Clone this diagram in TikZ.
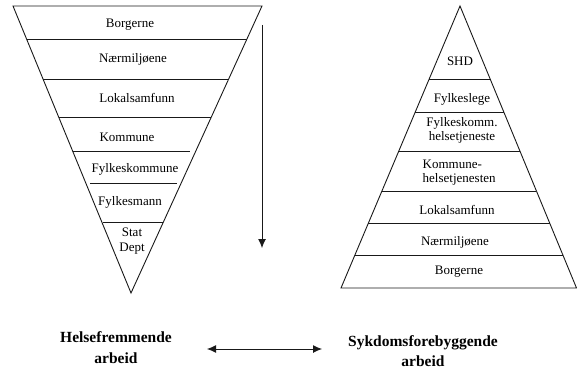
\documentclass[tikz,border=0pt]{standalone}
\usepackage{fontspec}
\setmainfont{Liberation Serif}
\usetikzlibrary{arrows.meta}
\tikzset{
  shape line/.style={line width=0.9pt, draw=black!90, line join=miter},
  lvl/.style={inner sep=0pt, font=\fontsize{13}{14.5}\selectfont, align=center},
  lvlleft/.style={inner sep=0pt, font=\fontsize{13}{14.5}\selectfont, align=left, anchor=west},
  caption/.style={inner sep=0pt, font=\fontsize{15.5}{20.5}\selectfont\bfseries, align=center},
  arrowline/.style={line width=0.9pt, draw=black!90},
  tip/.tip={Latex[length=9pt,width=8pt]}
}
\begin{document}
\begin{tikzpicture}[x=1pt,y=-1pt]
\useasboundingbox (0,0) rectangle (577,371);
% left inverted triangle
\coordinate (LTL) at (13,6);
\coordinate (LTR) at (262,6);
\coordinate (LA) at (131,293);
\draw[shape line] (LTL) -- (LTR) -- (LA) -- cycle;
\draw[shape line] (26.6,39) -- (247,39);
\draw[shape line] (43,79) -- (228.7,79);
\draw[shape line] (58.6,117) -- (211,117);
\draw[shape line] (72.6,151) -- (190,151);
\draw[shape line] (90,183) -- (177,183);
\draw[shape line] (103,222) -- (163,222);
\node[lvl] (l1) at (130,25) {Borgerne};
\node[lvl] (l2) at (133,59) {Nærmiljøene};
\node[lvl] (l3) at (137,98) {Lokalsamfunn};
\node[lvl] (l4) at (127,137) {Kommune};
\node[lvl] (l5) at (135,169) {Fylkeskommune};
\node[lvl] (l6) at (130,202) {Fylkesmann};
\node[lvl] (l7) at (132,241) {Stat\\Dept};
% vertical arrow
\coordinate (vA) at (262,25);
\coordinate (vB) at (262,248);
\draw[arrowline,-tip] (vA) -- (vB);
% right triangle
\coordinate (RA) at (460,6);
\coordinate (RBL) at (341,288);
\coordinate (RBR) at (576.5,288);
\draw[shape line] (RA) -- (RBR) -- (RBL) -- cycle;
\draw[shape line] (429.2,79) -- (490.2,79);
\draw[shape line] (415.3,112) -- (503.8,112);
\draw[shape line] (398.8,151) -- (520,151);
\draw[shape line] (381.9,191) -- (536.4,191);
\draw[shape line] (368.4,223) -- (549.6,223);
\draw[shape line] (354.9,255) -- (563,255);
\node[lvl] (r1) at (460,61) {SHD};
\node[lvl] (r2) at (462,99) {Fylkeslege};
\node[lvl] (r3) at (462,130.5) {Fylkeskomm.\\helsetjeneste};
\node[lvlleft] (r4) at (422.5,172.5) {Kommune-\\helsetjenesten};
\node[lvl] (r5) at (457,210) {Lokalsamfunn};
\node[lvl] (r6) at (455,242) {Nærmiljøene};
\node[lvl] (r7) at (459,272) {Borgerne};
% captions
\node[caption] (c1) at (116,347.5) {Helsefremmende\\arbeid};
\node[caption] (c2) at (423,351) {Sykdomsforebyggende\\arbeid};
\coordinate (hA) at (207,349);
\coordinate (hB) at (322,349);
\draw[arrowline,tip-tip] (hA) -- (hB);
\end{tikzpicture}
\end{document}
